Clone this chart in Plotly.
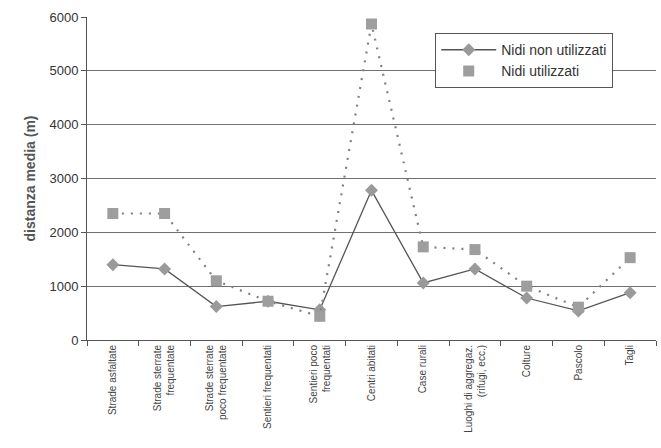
import plotly.graph_objects as go

categories = [
    "Strade asfaltate",
    "Strade sterrate<br>frequentate",
    "Strade sterrate<br>poco frequentate",
    "Sentieri frequentati",
    "Sentieri poco<br>frequentati",
    "Centri abitati",
    "Case rurali",
    "Luoghi di aggregaz.<br>(rifugi, ecc.)",
    "Colture",
    "Pascolo",
    "Tagli",
]
nidi_non_utilizzati = [1400, 1320, 620, 720, 560, 2780, 1060, 1320, 780, 540, 880]
nidi_utilizzati = [2350, 2350, 1100, 720, 440, 5870, 1730, 1680, 1000, 610, 1530]
y_ticks = [0, 1000, 2000, 3000, 4000, 5000, 6000]

fig = go.Figure()

fig.add_trace(go.Scatter(
    x=categories, y=nidi_non_utilizzati, mode="lines+markers",
    name="Nidi non utilizzati",
    line=dict(color="#555555", width=1.3),
    marker=dict(symbol="diamond", size=10, color="#9a9a9a"),
))
# dotted connector for the used-nest series
fig.add_trace(go.Scatter(
    x=categories, y=nidi_utilizzati, mode="lines",
    line=dict(color="#808080", width=2.2, dash="2px,7px"),
    showlegend=False, hoverinfo="skip",
))
fig.add_trace(go.Scatter(
    x=categories, y=nidi_utilizzati, mode="markers",
    name="Nidi utilizzati",
    marker=dict(symbol="square", size=11, color="#9e9e9e"),
))

fig.update_layout(
    width=661, height=448,
    margin=dict(l=87, r=5, t=17, b=108),
    paper_bgcolor="white", plot_bgcolor="white",
    font=dict(family="Arial, Liberation Sans, sans-serif", color="#333333"),
    showlegend=True,
    legend=dict(
        x=0.612, y=0.95, xanchor="left", yanchor="top",
        bgcolor="white", bordercolor="#555555", borderwidth=1,
        font=dict(size=14, color="#333333"),
        itemwidth=55,
        tracegroupgap=6,
    ),
    xaxis=dict(
        type="category",
        tickangle=-90,
        tickfont=dict(size=10, color="#444444"),
        showline=True, linecolor="#555555", linewidth=1,
        ticks="outside", tickson="boundaries", ticklen=5, tickcolor="#555555",
        showgrid=False,
        range=[-0.5, len(categories) - 0.5],
    ),
    yaxis=dict(
        range=[0, 6000],
        tickvals=y_ticks,
        tickfont=dict(size=13, color="#333333"),
        title=dict(text="<b>distanza media (m)</b>", font=dict(size=14, color="#555555"), standoff=10),
        showline=True, linecolor="#555555", linewidth=1,
        ticks="outside", ticklen=5, tickcolor="#555555",
        showgrid=True, gridcolor="#707070", gridwidth=1,
        zeroline=False,
    ),
)

fig.write_html("out.html")
